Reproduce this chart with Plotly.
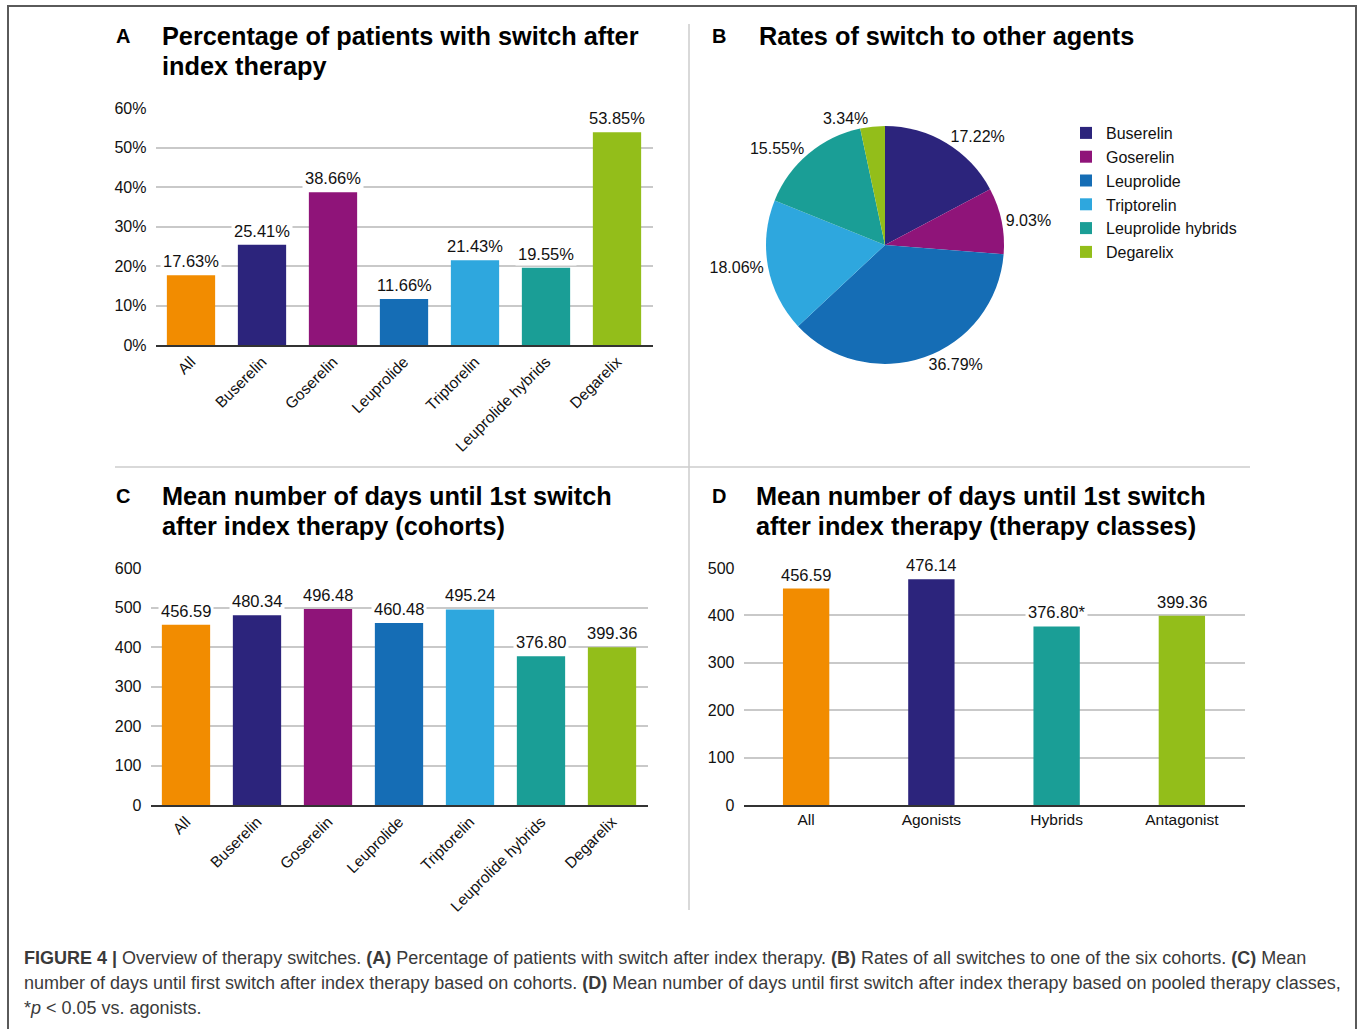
import plotly.graph_objects as go

W, H = 1360, 1029

# ---------------- data ----------------
cohorts = ["All", "Buserelin", "Goserelin", "Leuprolide", "Triptorelin",
           "Leuprolide hybrids", "Degarelix"]
pct_switch = [17.63, 25.41, 38.66, 11.66, 21.43, 19.55, 53.85]

pie_agents = ["Buserelin", "Goserelin", "Leuprolide", "Triptorelin",
              "Leuprolide hybrids", "Degarelix"]
pie_share = [17.22, 9.03, 36.79, 18.06, 15.55, 3.34]

days_cohort = [456.59, 480.34, 496.48, 460.48, 495.24, 376.80, 399.36]

classes = ["All", "Agonists", "Hybrids", "Antagonist"]
days_class = [456.59, 476.14, 376.80, 399.36]
class_marks = ["", "", "*", ""]

pct_ticks = [0, 10, 20, 30, 40, 50, 60]
pct_tick_labels = ["0%", "10%", "20%", "30%", "40%", "50%", "60%"]
days_ticks_c = [0, 100, 200, 300, 400, 500, 600]
days_ticks_d = [0, 100, 200, 300, 400, 500]

colors = {
    "All": "#F28C00",
    "Buserelin": "#2C247C",
    "Goserelin": "#8F1479",
    "Leuprolide": "#156DB5",
    "Triptorelin": "#2EA7DE",
    "Leuprolide hybrids": "#1A9E96",
    "Degarelix": "#93BE1A",
    "Agonists": "#2C247C",
    "Hybrids": "#1A9E96",
    "Antagonist": "#93BE1A",
}

FONT = "Liberation Sans, Arial, Helvetica, sans-serif"


def px(x):
    return x / W


def py(y):
    return 1 - y / H


fig = go.Figure()

# Panel A
fig.add_trace(go.Bar(x=cohorts, y=pct_switch, marker_color=[colors[c] for c in cohorts],
                     xaxis="x", yaxis="y", showlegend=False, hoverinfo="x+y"))
# Panel B
fig.add_trace(go.Pie(labels=pie_agents, values=pie_share,
                     marker=dict(colors=[colors[c] for c in pie_agents], line=dict(width=0)),
                     text=[f"{v:.2f}%" for v in pie_share], textinfo="text",
                     textposition="outside", sort=False, direction="clockwise", rotation=0,
                     outsidetextfont=dict(size=16, color="#111", family=FONT),
                     domain=dict(x=[px(766), px(1004)], y=[py(364), py(126)]),
                     showlegend=True, automargin=False))
# Panel C
fig.add_trace(go.Bar(x=cohorts, y=days_cohort, marker_color=[colors[c] for c in cohorts],
                     xaxis="x2", yaxis="y2", showlegend=False))
# Panel D
fig.add_trace(go.Bar(x=classes, y=days_class, marker_color=[colors[c] for c in classes],
                     width=0.37, xaxis="x3", yaxis="y3", showlegend=False))

grid = dict(showgrid=True, gridcolor="#C9C9C9", gridwidth=1.5, zeroline=False,
            showline=False, ticks="", ticklabelstandoff=8,
            tickfont=dict(size=16, color="#111", family=FONT), fixedrange=True)
xbase = dict(showgrid=False, zeroline=False, showline=True, linecolor="#333",
             linewidth=1.5, ticks="", fixedrange=True)

layout = dict(
    width=W, height=H, margin=dict(l=0, r=0, t=0, b=0),
    paper_bgcolor="white", plot_bgcolor="white", template="none",
    font=dict(family=FONT, color="#111"),
    bargap=0.32,
    xaxis=dict(**xbase, domain=[px(155.5), px(652.5)], anchor="y", tickangle=-45,
               tickfont=dict(size=15.5, color="#111", family=FONT)),
    yaxis=dict(**grid, domain=[py(345), py(108)], anchor="x", range=[0, 60],
               tickvals=pct_ticks, ticktext=pct_tick_labels),
    xaxis2=dict(**xbase, domain=[px(150.5), px(647.5)], anchor="y2", tickangle=-45,
                tickfont=dict(size=15.5, color="#111", family=FONT)),
    yaxis2=dict(**grid, domain=[py(805), py(568)], anchor="x2", range=[0, 600],
                tickvals=days_ticks_c),
    xaxis3=dict(**xbase, domain=[px(743.5), px(1244.5)], anchor="y3",
                tickfont=dict(size=15.5, color="#111", family=FONT)),
    yaxis3=dict(**grid, domain=[py(805), py(568)], anchor="x3", range=[0, 500],
                tickvals=days_ticks_d),
    legend=dict(x=px(1066), y=py(116), xanchor="left", yanchor="top",
                font=dict(size=16, color="#111", family=FONT), bgcolor="rgba(0,0,0,0)",
                traceorder="normal"),
)
fig.update_layout(**layout)

annotations = []


# value labels above bars
def bar_labels(xs, ys, xref, yref, fmt, marks=None):
    for i, (c, v) in enumerate(zip(xs, ys)):
        t = fmt.format(v) + (marks[i] if marks else "")
        annotations.append(dict(x=c, y=v, xref=xref, yref=yref, text=t, showarrow=False,
                                yanchor="bottom", yshift=2, bgcolor="white", borderpad=2,
                                font=dict(size=16.5, color="#111", family=FONT)))


bar_labels(cohorts, pct_switch, "x", "y", "{:.2f}%")
bar_labels(cohorts, days_cohort, "x2", "y2", "{:.2f}")
bar_labels(classes, days_class, "x3", "y3", "{:.2f}", class_marks)


# panel letters and titles
def title(letter, lx, tx, y, lines):
    annotations.append(dict(x=px(lx), y=py(y), xref="paper", yref="paper", text=f"<b>{letter}</b>",
                            showarrow=False, xanchor="center", yanchor="middle",
                            font=dict(size=20, color="#000", family=FONT)))
    for k, line in enumerate(lines):
        annotations.append(dict(x=px(tx), y=py(y + 30 * k), xref="paper", yref="paper",
                                text=f"<b>{line}</b>", showarrow=False, xanchor="left",
                                yanchor="middle", font=dict(size=25.3, color="#000", family=FONT)))


title("A", 123, 160, 36, ["Percentage of patients with switch after", "index therapy"])
title("B", 719, 757, 36, ["Rates of switch to other agents"])
title("C", 123, 160, 496, ["Mean number of days until 1st switch", "after index therapy (cohorts)"])
title("D", 719, 754, 496, ["Mean number of days until 1st switch",
                           "after index therapy (therapy classes)"])

# caption
cap_lines = [
    "<b>FIGURE 4 |</b> Overview of therapy switches. <b>(A)</b> Percentage of patients with switch after index therapy. "
    "<b>(B)</b> Rates of all switches to one of the six cohorts. <b>(C)</b> Mean",
    "number of days until first switch after index therapy based on cohorts. <b>(D)</b> Mean number of days until "
    "first switch after index therapy based on pooled therapy classes,",
    "*<i>p</i> &lt; 0.05 vs. agonists.",
]
for k, line in enumerate(cap_lines):
    annotations.append(dict(x=px(22), y=py(958 + 25 * k), xref="paper", yref="paper", text=line,
                            showarrow=False, xanchor="left", yanchor="middle",
                            font=dict(size=18, color="#3A3A3A", family=FONT)))

fig.update_layout(annotations=annotations)

shapes = [
    dict(type="rect", xref="paper", yref="paper", x0=px(8), x1=px(1356), y0=py(1040), y1=py(6),
         line=dict(color="#5A5A5A", width=2), fillcolor="rgba(0,0,0,0)", layer="below"),
    dict(type="line", xref="paper", yref="paper", x0=px(689), x1=px(689), y0=py(24), y1=py(910),
         line=dict(color="#CCCCCC", width=1.5)),
    dict(type="line", xref="paper", yref="paper", x0=px(115), x1=px(1250), y0=py(467), y1=py(467),
         line=dict(color="#CCCCCC", width=1.5)),
]
fig.update_layout(shapes=shapes)

fig.write_html("out.html", config={"displayModeBar": False},
               post_script="document.body.style.margin='0px';document.body.style.overflow='hidden';")
